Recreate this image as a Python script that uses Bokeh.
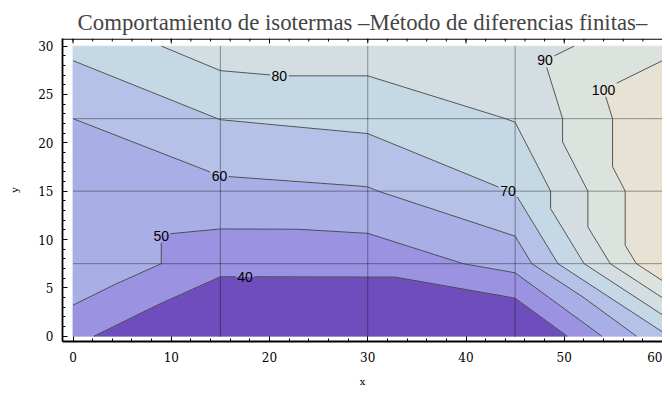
import numpy as np
from bokeh.plotting import figure
from bokeh.models import Range1d, FixedTicker
from bokeh.core.properties import value
from bokeh.embed import file_html
from bokeh.resources import INLINE

# ---------------- data ----------------
x_nodes = [0, 15, 30, 45, 60]
y_nodes = [0, 7.5, 15, 22.5, 30]
temp_y0 = [42.5, 25.0, 25.0, 25.0, 67.5]
temp_y7 = [60.0, 43.3, 43.4, 53.6, 110.0]
temp_y15 = [60.0, 57.3, 59.2, 70.5, 110.0]
temp_y22 = [60.0, 70.2, 72.8, 80.5, 110.0]
temp_y30 = [72.5, 85.0, 85.0, 85.0, 97.5]
levels = [40, 50, 60, 70, 80, 90, 100]
x_ticks = [0, 10, 20, 30, 40, 50, 60]
x_minor = list(range(0, 61, 2))
y_ticks = [0, 5, 10, 15, 20, 25, 30]
y_minor = list(range(0, 31, 1))

# ---------------- styling / layout ----------------
band_colors = ["#6E4EBD", "#9B92E1", "#A8AEE6", "#B5C1E7", "#C5D8E6",
               "#D3DDE2", "#DCE2DE", "#E8E2D4"]
# where each contour label should sit (rough hint, snapped onto its line)
label_hints = [(40, 17.5, 6.1), (50, 8.9, 10.4), (60, 14.9, 16.6),
               (70, 44.3, 15.1), (80, 21.0, 26.9), (90, 48.0, 28.6),
               (100, 54.0, 25.5)]

XR = (-1.07, 60.0)
YR = (-0.55, 30.79)
W, H = 662, 389
MB_L, MB_R, MB_T, MB_B = 62, 0, 38, 47
px_x = (W - MB_L - MB_R) / (XR[1] - XR[0])
px_y = (H - MB_T - MB_B) / (YR[1] - YR[0])

T = [temp_y0, temp_y7, temp_y15, temp_y22, temp_y30]

# triangulate each grid cell along the top-left -> bottom-right diagonal
tris = []
for j in range(len(y_nodes) - 1):
    for i in range(len(x_nodes) - 1):
        A = (x_nodes[i], y_nodes[j], T[j][i])
        B = (x_nodes[i + 1], y_nodes[j], T[j][i + 1])
        C = (x_nodes[i], y_nodes[j + 1], T[j + 1][i])
        D = (x_nodes[i + 1], y_nodes[j + 1], T[j + 1][i + 1])
        tris.append([A, B, C])
        tris.append([B, D, C])


def clip(poly, f):
    out = []
    n = len(poly)
    for k in range(n):
        P, Q = poly[k], poly[(k + 1) % n]
        fp, fq = f(P), f(Q)
        if fp >= 0:
            out.append(P)
        if (fp >= 0) != (fq >= 0):
            t = fp / (fp - fq)
            out.append(tuple(P[m] + t * (Q[m] - P[m]) for m in range(3)))
    return out


def area(poly):
    s = 0.0
    for k in range(len(poly)):
        x1, y1 = poly[k][0], poly[k][1]
        x2, y2 = poly[(k + 1) % len(poly)][0], poly[(k + 1) % len(poly)][1]
        s += x1 * y2 - x2 * y1
    return abs(s) / 2


bounds = [-1e9] + levels + [1e9]

p = figure(width=W, height=H, x_range=Range1d(*XR), y_range=Range1d(*YR),
           output_backend="svg", toolbar_location=None,
           min_border_left=MB_L, min_border_right=MB_R,
           min_border_top=MB_T, min_border_bottom=MB_B)
p.xgrid.visible = False
p.ygrid.visible = False
p.outline_line_color = None
p.background_fill_color = "white"
p.border_fill_color = "white"

# filled bands
for b in range(len(bounds) - 1):
    lo, hi = bounds[b], bounds[b + 1]
    pxs, pys = [], []
    for tri in tris:
        poly = clip(tri, lambda v: v[2] - lo)
        if len(poly) >= 3:
            poly = clip(poly, lambda v: hi - v[2])
        if len(poly) >= 3 and area(poly) > 1e-9:
            pxs.append([v[0] for v in poly])
            pys.append([v[1] for v in poly])
    if pxs:
        p.patches(xs=pxs, ys=pys, fill_color=band_colors[b],
                  line_color=band_colors[b], line_width=0.8)

# mesh lines
inner_x = x_nodes[1:-1]
inner_y = y_nodes[1:-1]
p.segment(x0=inner_x, y0=[y_nodes[0]] * len(inner_x), x1=inner_x,
          y1=[y_nodes[-1]] * len(inner_x), line_color="black",
          line_alpha=0.38, line_width=1)
p.segment(x0=[x_nodes[0]] * len(inner_y), y0=inner_y,
          x1=[x_nodes[-1]] * len(inner_y), y1=inner_y, line_color="black",
          line_alpha=0.38, line_width=1)

# contour line segments
xmin, xmax, ymin, ymax = x_nodes[0], x_nodes[-1], y_nodes[0], y_nodes[-1]


def on_same_border(a, b):
    eps = 1e-9
    for k, v in ((0, xmin), (0, xmax), (1, ymin), (1, ymax)):
        if abs(a[k] - v) < eps and abs(b[k] - v) < eps:
            return True
    return False


segs = {lev: [] for lev in levels}
for lev in levels:
    for tri in tris:
        pts = []
        for a, b in ((tri[0], tri[1]), (tri[1], tri[2]), (tri[2], tri[0])):
            if (a[2] >= lev) != (b[2] >= lev):
                t = (lev - a[2]) / (b[2] - a[2])
                pts.append((a[0] + t * (b[0] - a[0]), a[1] + t * (b[1] - a[1])))
        if len(pts) == 2:
            a, b = pts
            if abs(a[0] - b[0]) + abs(a[1] - b[1]) < 1e-9:
                continue
            if on_same_border(a, b):
                continue
            segs[lev].append((a, b))

# snap label anchors onto their lines
font_px = 14
label_x, label_y, label_t, boxes = [], [], [], []
for lev, hx, hy in label_hints:
    best, bd = None, 1e18
    for a, b in segs[lev]:
        dx, dy = (b[0] - a[0]) * px_x, (b[1] - a[1]) * px_y
        L2 = dx * dx + dy * dy
        t = ((hx - a[0]) * px_x * dx + (hy - a[1]) * px_y * dy) / L2
        t = min(1, max(0, t))
        qx, qy = a[0] + t * (b[0] - a[0]), a[1] + t * (b[1] - a[1])
        d = ((qx - hx) * px_x) ** 2 + ((qy - hy) * px_y) ** 2
        if d < bd:
            bd, best = d, (qx, qy)
    txt = str(lev)
    label_x.append(best[0])
    label_y.append(best[1])
    label_t.append(txt)
    hw = (len(txt) * 0.556 * font_px / 2 + 1.5) / px_x
    hh = (font_px * 0.5) / px_y
    boxes.append((lev, best[0] - hw, best[0] + hw, best[1] - hh, best[1] + hh))


def cut(seg, box):
    (ax, ay), (bx, by) = seg
    x0, x1, y0, y1 = box
    dx, dy = bx - ax, by - ay
    t0, t1 = 0.0, 1.0
    for pp, qq in ((-dx, ax - x0), (dx, x1 - ax), (-dy, ay - y0), (dy, y1 - ay)):
        if pp == 0:
            if qq < 0:
                return [seg]
        else:
            r = qq / pp
            if pp < 0:
                t0 = max(t0, r)
            else:
                t1 = min(t1, r)
    if t0 >= t1:
        return [seg]
    out = []
    if t0 > 1e-6:
        out.append(((ax, ay), (ax + t0 * dx, ay + t0 * dy)))
    if t1 < 1 - 1e-6:
        out.append(((ax + t1 * dx, ay + t1 * dy), (bx, by)))
    return out


sx0, sy0, sx1, sy1 = [], [], [], []
for lev in levels:
    cur = segs[lev]
    for blev, bx0, bx1, by0, by1 in boxes:
        if blev != lev:
            continue
        nxt = []
        for s in cur:
            nxt.extend(cut(s, (bx0, bx1, by0, by1)))
        cur = nxt
    for (a, b) in cur:
        sx0.append(a[0]); sy0.append(a[1]); sx1.append(b[0]); sy1.append(b[1])

p.segment(x0=sx0, y0=sy0, x1=sx1, y1=sy1, line_color="#333333",
          line_alpha=0.8, line_width=1)

p.text(x=label_x, y=label_y, text=label_t, text_font=value("Liberation Sans"),
       text_font_size=f"{font_px}px", text_align="center",
       text_baseline="middle", text_color="black")

# top frame edge with inward ticks (no labels)
top_y = YR[1] - 0.6 / px_y
p.segment(x0=[XR[0]], y0=[top_y], x1=[XR[1]], y1=[top_y],
          line_color="black", line_width=1.2)
p.segment(x0=x_ticks, y0=[YR[1]] * len(x_ticks), x1=x_ticks,
          y1=[YR[1] - 5 / px_y] * len(x_ticks), line_color="black",
          line_width=1)
p.segment(x0=x_minor, y0=[YR[1]] * len(x_minor), x1=x_minor,
          y1=[YR[1] - 3 / px_y] * len(x_minor), line_color="black",
          line_width=1)

# axes
xa = p.xaxis[0]
xa.ticker = FixedTicker(ticks=x_ticks, minor_ticks=x_minor)
ya = p.yaxis[0]
ya.ticker = FixedTicker(ticks=y_ticks, minor_ticks=y_minor)
for ax in (xa, ya):
    ax.axis_line_width = 1.8
    ax.axis_line_color = "black"
    ax.major_tick_in = 5
    ax.major_tick_out = 0
    ax.minor_tick_in = 3
    ax.minor_tick_out = 0
    ax.major_tick_line_color = "black"
    ax.minor_tick_line_color = "black"
    ax.major_label_text_font = "DejaVu Serif"
    ax.major_label_text_font_size = "12px"
    ax.major_label_text_color = "black"
    ax.axis_label_text_font = "DejaVu Serif"
    ax.axis_label_text_font_size = "10px"
    ax.axis_label_text_font_style = "normal"
    ax.axis_label_text_color = "black"
xa.major_label_standoff = 10
ya.major_label_standoff = 9
xa.axis_label = "x"
ya.axis_label = "y"
xa.axis_label_standoff = 11
ya.axis_label_standoff = 15

p.title.text = "Comportamiento de isotermas \u2013M\u00e9todo de diferencias finitas\u2013"
p.title.text_font = "Liberation Serif"
p.title.text_font_size = "22.8px"
p.title.text_font_style = "normal"
p.title.align = "center"
p.title.standoff = 8

open("out.html", "w").write(file_html(p, INLINE))
